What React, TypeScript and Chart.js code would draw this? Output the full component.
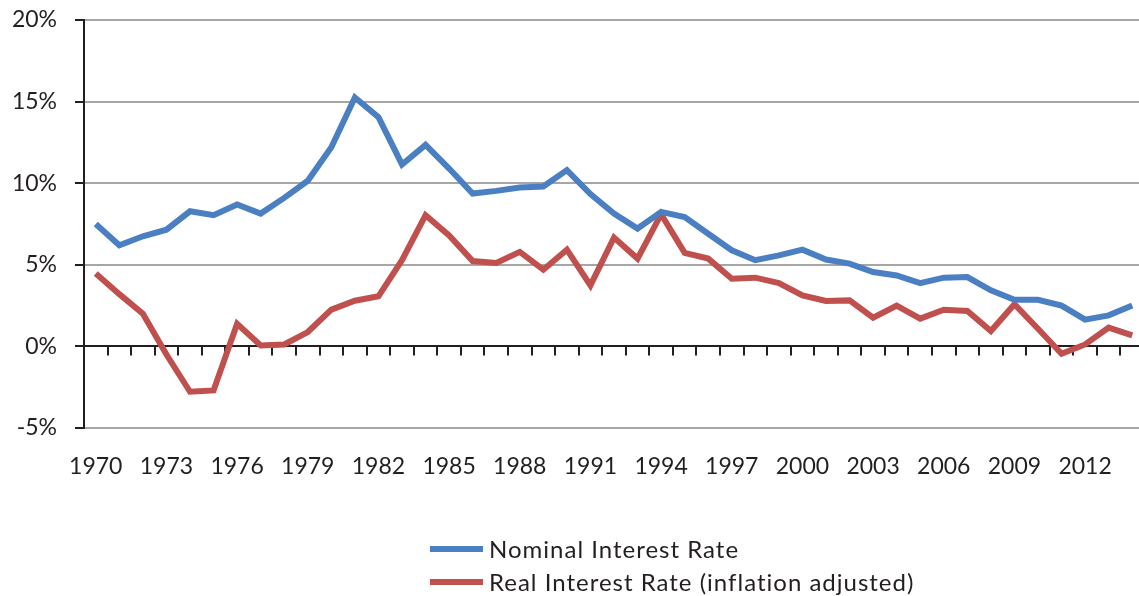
import React, { useEffect, useRef } from "react";
import { Chart, registerables } from "chart.js";

Chart.register(...registerables);

const years = [
  "1970", "1971", "1972", "1973", "1974", "1975", "1976", "1977", "1978", "1979",
  "1980", "1981", "1982", "1983", "1984", "1985", "1986", "1987", "1988", "1989",
  "1990", "1991", "1992", "1993", "1994", "1995", "1996", "1997", "1998", "1999",
  "2000", "2001", "2002", "2003", "2004", "2005", "2006", "2007", "2008", "2009",
  "2010", "2011", "2012", "2013", "2014",
];

const nominalRate = [
  7.5, 6.2, 6.75, 7.15, 8.28, 8.04, 8.7, 8.14, 9.1, 10.15,
  12.2, 15.25, 14.05, 11.15, 12.35, 10.9, 9.37, 9.53, 9.73, 9.8,
  10.8, 9.33, 8.14, 7.22, 8.24, 7.93, 6.9, 5.89, 5.28, 5.58,
  5.93, 5.32, 5.07, 4.56, 4.35, 3.88, 4.21, 4.25, 3.44, 2.86,
  2.86, 2.5, 1.64, 1.9, 2.5,
];

const realRate = [
  4.46, 3.2, 2.0, -0.5, -2.78, -2.7, 1.39, 0.06, 0.12, 0.88,
  2.25, 2.8, 3.07, 5.28, 8.04, 6.8, 5.23, 5.11, 5.79, 4.7,
  5.93, 3.74, 6.67, 5.38, 8.1, 5.73, 5.38, 4.15, 4.21, 3.88,
  3.13, 2.78, 2.82, 1.76, 2.5, 1.7, 2.25, 2.17, 0.94, 2.58,
  1.08, -0.45, 0.12, 1.15, 0.67,
];

const seriesNames = ["Nominal Interest Rate", "Real Interest Rate (inflation adjusted)"];
const seriesColors = ["#4a7fc1", "#c0504d"];
const yMin = -5;
const yMax = 20;
const yStep = 5;
const labelEvery = 3;

const TEXT = "#231f20";
const FONT = "Lato";
const CANVAS_W = 1144;
const CANVAS_H = 596;

const zeroTicks = {
  id: "zeroTicks",
  beforeDatasetsDraw(chart: any) {
    const xs = chart.scales.x;
    const ys = chart.scales.y;
    const y0 = ys.getPixelForValue(0);
    const ctx = chart.ctx;
    const n = chart.data.labels.length;
    ctx.save();
    ctx.strokeStyle = TEXT;
    ctx.lineWidth = 2;
    for (let i = 1; i < n; i++) {
      const px = Math.round((xs.getPixelForValue(i - 1) + xs.getPixelForValue(i)) / 2);
      ctx.beginPath();
      ctx.moveTo(px, y0);
      ctx.lineTo(px, y0 + 9);
      ctx.stroke();
    }
    ctx.restore();
  },
};

export default function App() {
  const ref = useRef<HTMLCanvasElement | null>(null);

  useEffect(() => {
    if (!ref.current) return;
    const chart = new Chart(ref.current, {
      type: "line",
      data: {
        labels: years,
        datasets: [
          {
            label: seriesNames[0],
            data: nominalRate,
            borderColor: seriesColors[0],
            backgroundColor: seriesColors[0],
            borderWidth: 6,
            pointRadius: 0,
            tension: 0,
          },
          {
            label: seriesNames[1],
            data: realRate,
            borderColor: seriesColors[1],
            backgroundColor: seriesColors[1],
            borderWidth: 6,
            pointRadius: 0,
            tension: 0,
          },
        ],
      },
      options: {
        responsive: false,
        animation: false,
        devicePixelRatio: 1,
        layout: { padding: { top: 20, right: 0, bottom: 96, left: 0 } },
        plugins: {
          legend: { display: false },
          tooltip: { enabled: false },
        },
        scales: {
          x: {
            offset: true,
            grid: { display: false, drawTicks: false },
            border: { display: false },
            ticks: {
              autoSkip: false,
              maxRotation: 0,
              padding: 25,
              color: TEXT,
              font: { family: FONT, size: 23 },
              callback: (_v: any, i: number) => (i % labelEvery === 0 ? years[i] : ""),
            },
            afterFit: (s: any) => {
              s.height = 72;
              s.paddingLeft = 0;
              s.paddingRight = 0;
            },
          },
          y: {
            min: yMin,
            max: yMax,
            ticks: {
              stepSize: yStep,
              padding: 18,
              color: TEXT,
              font: { family: FONT, size: 23 },
              callback: (v: any) => v + "%",
            },
            grid: {
              color: (c: any) => (c.tick && c.tick.value === 0 ? TEXT : "#a6a6a6"),
              lineWidth: 2,
              tickColor: TEXT,
              tickLength: 9,
            },
            border: { color: TEXT, width: 2 },
            afterFit: (s: any) => {
              s.width = 84;
              s.paddingTop = 0;
              s.paddingBottom = 0;
            },
          },
        },
      },
      plugins: [zeroTicks],
    });
    return () => chart.destroy();
  }, []);

  const rowCenters = [549, 582];

  return (
    <div
      style={{
        position: "absolute",
        left: 0,
        top: 0,
        width: 1139,
        height: 596,
        overflow: "hidden",
      }}
    >
      <canvas ref={ref} width={CANVAS_W} height={CANVAS_H} style={{ display: "block" }} />
      {seriesNames.map((name, i) => (
        <React.Fragment key={name}>
          <div
            style={{
              position: "absolute",
              left: 430,
              top: rowCenters[i] - 3,
              width: 53,
              height: 6,
              background: seriesColors[i],
            }}
          />
          <div
            style={{
              position: "absolute",
              left: 489,
              top: rowCenters[i] - 15,
              lineHeight: "30px",
              fontFamily: FONT,
              fontSize: 24,
              letterSpacing: "1px",
              color: TEXT,
              whiteSpace: "nowrap",
            }}
          >
            {name}
          </div>
        </React.Fragment>
      ))}
    </div>
  );
}
